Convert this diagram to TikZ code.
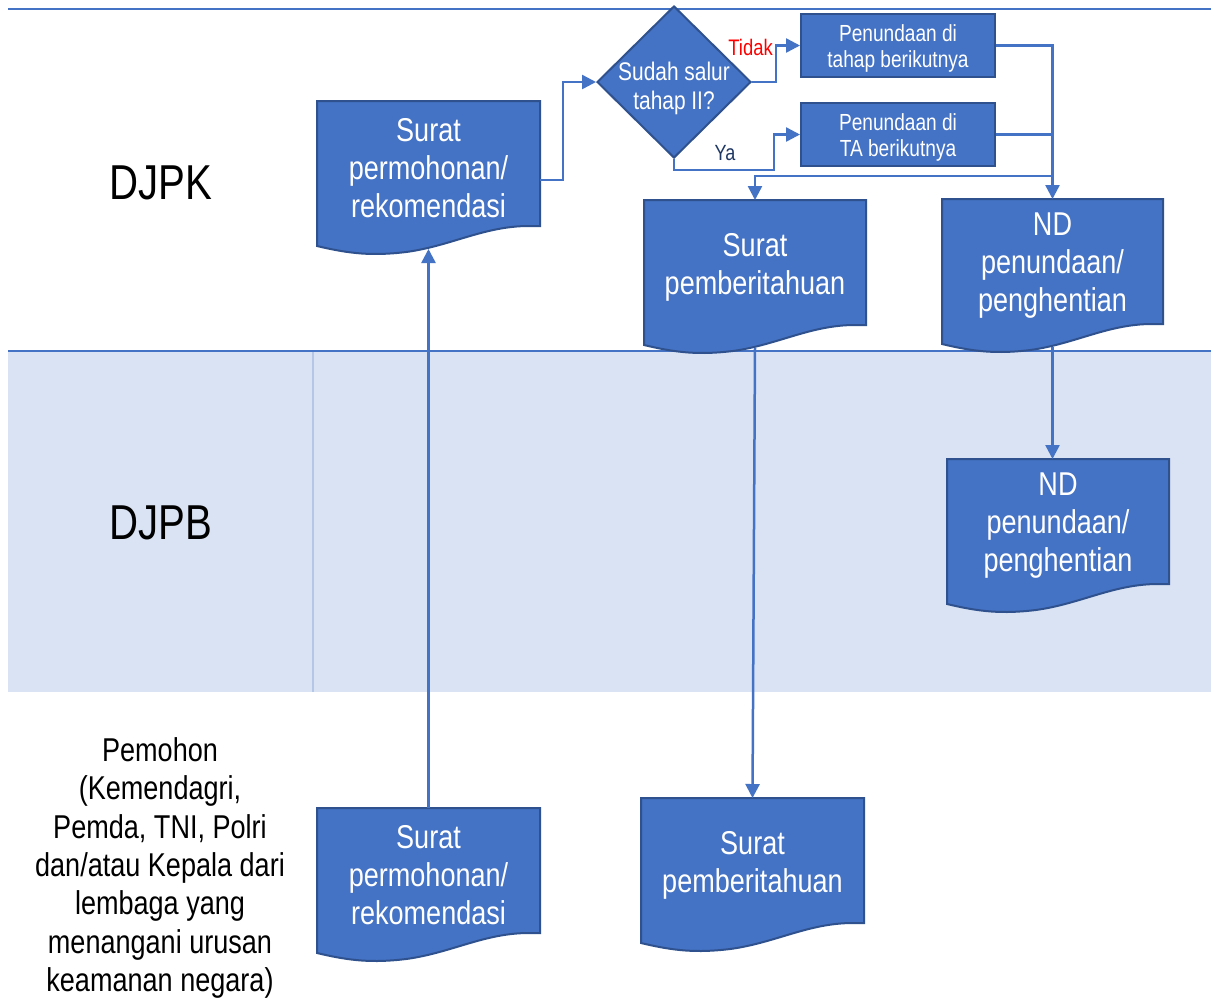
\documentclass[tikz,border=0pt]{standalone}
\usepackage{fontspec}
\setmainfont[FakeStretch=0.82]{Liberation Sans}
\usetikzlibrary{shapes.geometric,arrows.meta,calc}
\definecolor{obl}{HTML}{4472C4}
\definecolor{odk}{HTML}{2F528F}
\definecolor{band}{HTML}{DAE3F3}
\definecolor{bandln}{HTML}{B4C7E7}
\definecolor{navy}{HTML}{1F3864}
\definecolor{tred}{HTML}{FF0000}
\tikzset{
  docshape/.style={fill=obl, draw=odk, line width=2pt, line join=miter},
  doctext/.style={text=white, font=\fontsize{33}{38}\selectfont, align=center, inner sep=0pt},
  smallbox/.style={rectangle, fill=obl, draw=odk, line width=2pt, minimum width=194pt, minimum height=63pt, inner sep=0pt},
  smalltext/.style={text=white, align=center, inner sep=0pt, font=\fontsize{23.3}{26.5}\selectfont},
  decbox/.style={diamond, fill=obl, draw=odk, line width=2pt, minimum width=154pt, minimum height=152pt, inner sep=0pt},
  conn/.style={draw=obl, line width=2.5pt},
  arr/.style={conn, -{Triangle[length=14pt,width=14pt]}},
  lanelbl/.style={text=black, align=center, inner sep=0pt},
  lanerule/.style={draw=obl, line width=2.5pt},
}
\newcommand\docbox[5]{%
  \begin{scope}[shift={(#2,#3)}]
    \path[docshape] (0,0) -- (0,145)
      .. controls ({0.15*#4},153) and ({0.25*#4},155) .. ({0.4*#4},151)
      .. controls ({0.6*#4},145) and ({0.75*#4},125) .. ({0.95*#4},125)
      -- (#4,125) -- (#4,0) -- cycle;
    \node[doctext] (#1) at ({#4/2},67) {#5};
    \coordinate (#1-n) at ({#4/2},0);
    \coordinate (#1-s) at ({#4/2},148);
    \coordinate (#1-e) at (#4,79);
  \end{scope}}
\begin{document}
\begin{tikzpicture}[x=1pt,y=-1pt]
  \path[use as bounding box, fill=white] (0,0) rectangle (1211,997);
  % lanes
  \fill[band] (8,351) rectangle (1211,692);
  \draw[bandln, line width=1.5pt] (313,351) -- (313,692);
  \draw[lanerule] (8,9) -- (1211,9);
  \draw[lanerule] (8,351) -- (1211,351);
  \node[lanelbl, font=\fontsize{49}{56}\selectfont] (djpk) at (161,183) {DJPK};
  \node[lanelbl, font=\fontsize{49}{56}\selectfont] (djpb) at (161,523) {DJPB};
  \node[lanelbl, font=\fontsize{33}{38.4}\selectfont] (pemohon) at (160,868)
    {Pemohon\\(Kemendagri,\\Pemda, TNI, Polri\\dan/atau Kepala dari\\lembaga yang\\menangani urusan\\keamanan negara)};
  % documents
  \docbox{d1}{317}{101}{223}{Surat\\permohonan/\\rekomendasi}
  \docbox{d2}{644}{200}{222}{Surat\\pemberitahuan}
  \docbox{d3}{942}{199}{221}{ND\\penundaan/\\penghentian}
  \docbox{d4}{947}{459}{222}{ND\\penundaan/\\penghentian}
  \docbox{d5}{317}{808}{223}{Surat\\permohonan/\\rekomendasi}
  \docbox{d6}{641}{798}{223}{Surat\\pemberitahuan}
  % decision and small boxes
  \node[decbox] (dec) at (674,82) {};
  \node[text=white, align=center, inner sep=0pt, font=\fontsize{25.5}{29}\selectfont] (dectxt) at (674,88) {Sudah salur\\tahap II?};
  \node[smallbox] (boxA) at (898,45.5) {};
  \node[smallbox] (boxB) at (898,134.5) {};
  \node[smalltext] (boxAt) at (898,48.5) {Penundaan di\\tahap berikutnya};
  \node[smalltext] (boxBt) at (898,137.5) {Penundaan di\\TA berikutnya};
  % connectors
  \draw[arr] (d1-e) -- ([xshift=23pt]d1-e) |- (dec.west);
  \draw[arr] (dec.east) -- ([xshift=24pt]dec.east) |- (boxA.west);
  \draw[arr] (dec.south) -- ([yshift=-11pt]dec.south) -| ([xshift=-26pt]boxB.west) -- (boxB.west);
  \node[text=tred, anchor=east, inner sep=0pt, font=\fontsize{22.5}{25}\selectfont] (tidak) at (773,47) {Tidak};
  \node[text=navy, inner sep=0pt, font=\fontsize{22}{25}\selectfont] (ya) at (725,153) {Ya};
  \draw[arr] (boxA.east) -| (d3-n);
  \draw[conn] (boxB.east) -- (boxB.east -| d3-n);
  \coordinate (jn) at (d3-n |- 0,176);
  \draw[arr] (jn) -| (d2-n);
  \draw[arr] (d3-s) -- (d3-s |- d4-n);
  \draw[arr] (d2-s) -- (d6-n);
  \draw[arr] (d5-n) -- (d1-s);
\end{tikzpicture}
\end{document}
